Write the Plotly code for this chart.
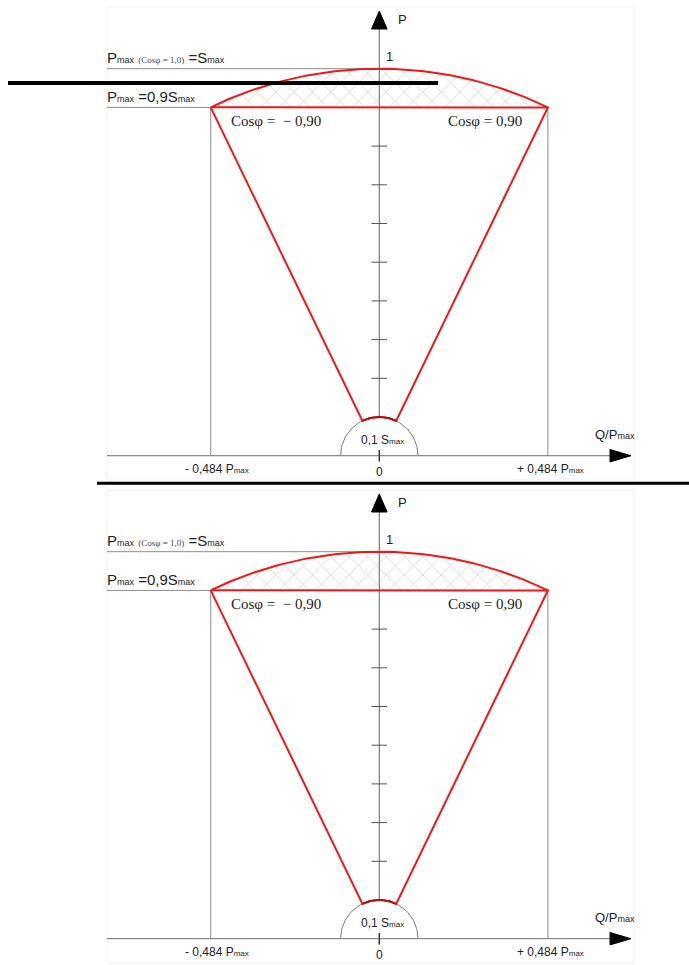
import numpy as np
import plotly.graph_objects as go

# values (units of S_max)
p_unity = 1.0          # P_max at cos phi = 1.0
p_limit = 0.9          # P_max = 0.9 S_max
q_ratio = 0.484        # Q / P_max at the corners
s_small = 0.1          # small half circle, 0.1 S_max
p_ticks = [0.2, 0.3, 0.4, 0.5, 0.6, 0.7, 0.8]
cos_labels = ["Cosφ\u00a0=\u00a0\u00a0− 0,90", "Cosφ\u00a0=\u00a00,90"]
q_labels = ["- 0,484 P<span style='font-size:8px'>max</span>",
            "+ 0,484 P<span style='font-size:8px'>max</span>"]

# page geometry (pixels) of one copy of the drawing
PX = 387.0           # pixels per unit
X0, Y0 = 379.3, 455.7
PANEL_H = [483, 482]  # the picture holds the same drawing twice
W, H = 689, 965

def dx(px):
    return (px - X0) / PX

def dy(py):
    return (Y0 - py) / PX

q_edge = q_ratio * p_limit
th_edge = np.arccos(q_edge)

SMALL = "font-size:8px"
MID = "font-size:9px"
SERIF = "Liberation Serif"
SANS = "Liberation Sans, Arial"

fig = go.Figure()


def line(xa, ya, x, y, color, width, fill=None, fillcolor=None, pattern=None):
    fig.add_trace(go.Scatter(x=x, y=y, mode="lines", xaxis=xa, yaxis=ya,
                             line=dict(color=color, width=width),
                             fill=fill, fillcolor=fillcolor, fillpattern=pattern,
                             hoverinfo="skip", showlegend=False))


def add_panel(n):
    xa = "x" if n == 1 else "x2"
    ya = "y" if n == 1 else "y2"
    left, right = dx(107), dx(634)

    # faint frame
    line(xa, ya, [left, right, right, left, left], [dy(7), dy(7), dy(480), dy(480), dy(7)],
         "#f1f1f1", 1)

    # hatched area between the S_max circle and P = 0.9
    th = np.linspace(th_edge, np.pi - th_edge, 80)
    line(xa, ya, list(np.cos(th)) + [np.cos(th[0])], list(np.sin(th)) + [np.sin(th[0])],
         "rgba(0,0,0,0)", 0, fill="toself", fillcolor="white",
         pattern=dict(shape="x", fgcolor="#a8a8a8", bgcolor="white", size=13, solidity=0.12))

    # grey reference lines
    line(xa, ya, [left, 0], [p_unity, p_unity], "#8c8c8c", 1)
    line(xa, ya, [left, -q_edge], [p_limit, p_limit], "#8c8c8c", 1)
    line(xa, ya, [-q_edge, -q_edge, None, q_edge, q_edge],
         [0, p_limit, None, 0, p_limit], "#8c8c8c", 1)

    # small half circle
    ts = np.linspace(0, np.pi, 60)
    line(xa, ya, s_small * np.cos(ts), s_small * np.sin(ts), "#7a7a7a", 1)

    # horizontal axis
    line(xa, ya, [left, dx(610)], [0, 0], "#8c8c8c", 1.3)
    line(xa, ya, [dx(610), dx(631), dx(610), dx(610)], [dy(449.5), 0, dy(461.9), dy(449.5)],
         "black", 1, fill="toself", fillcolor="black")
    # vertical axis
    line(xa, ya, [0, 0], [s_small, dy(29)], "#7a7a7a", 1.2)
    line(xa, ya, [dx(371.5), 0, dx(387.1), dx(371.5)], [dy(29), dy(11), dy(29), dy(29)],
         "black", 1, fill="toself", fillcolor="black")
    tx, ty = [], []
    for t in p_ticks:
        tx += [dx(371.5), dx(387), None]
        ty += [t, t, None]
    line(xa, ya, tx, ty, "#555555", 1)
    line(xa, ya, [0, 0], [dy(450), dy(461.5)], "#333333", 1.5)

    # red capability outline
    tb = np.linspace(np.pi - th_edge, th_edge, 20)
    tt = np.linspace(th_edge, np.pi - th_edge, 80)
    rx = [-q_edge] + list(s_small * np.cos(tb)) + [q_edge] + list(np.cos(tt)) + [q_edge]
    ry = [p_limit] + list(s_small * np.sin(tb)) + [p_limit] + list(np.sin(tt)) + [p_limit]
    line(xa, ya, rx, ry, "#f01818", 2)
    line(xa, ya, s_small * np.cos(tb), s_small * np.sin(tb), "#b01010", 2)

    def txt(x, y, s, size=12, anchor="center", family=SANS, color="#222222"):
        fig.add_annotation(x=x, y=y, xref=xa, yref=ya, text=s, showarrow=False,
                           xanchor=anchor, yanchor="middle",
                           font=dict(family=family, size=size, color=color))

    txt(dx(396), dy(19), "P", 13, "left")
    txt(dx(384), dy(56), "1", 13, "left")
    txt(dx(105), dy(57),
        "P<span style='%s'>max</span> <span style='font-family:%s;font-size:9px;fill:#444'>(Cosφ\u00a0=\u00a01,0)</span> =S<span style='%s'>max</span>"
        % (MID, SERIF, MID), 15, "left")
    txt(dx(105), dy(96), "P<span style='%s'>max</span> =0,9S<span style='%s'>max</span>"
        % (MID, MID), 15, "left")
    txt(dx(275.5), dy(121), cos_labels[0], 15, family=SERIF)
    txt(dx(484.7), dy(121), cos_labels[1], 15, family=SERIF)
    txt(dx(382), dy(440), "0,1 S<span style='%s'>max</span>" % SMALL, 12)
    txt(0, dy(472), "0", 12)
    txt(dx(217), dy(469), q_labels[0], 12)
    txt(dx(550), dy(469), q_labels[1], 12)
    txt(dx(615), dy(434), "Q/P<span style='%s'>max</span>" % MID, 13)


add_panel(1)
add_panel(2)

# page domains so that one unit is PX pixels in both directions
top_dom = [1 - PANEL_H[0] / H, 1]
bot_dom = [0, 1 - PANEL_H[0] / H]
xr = [dx(0), dx(W)]
ax = dict(visible=False, showgrid=False, zeroline=False, fixedrange=True)
fig.update_layout(
    width=W, height=H, margin=dict(l=0, r=0, t=0, b=0),
    paper_bgcolor="white", plot_bgcolor="white", showlegend=False,
    xaxis=dict(ax, domain=[0, 1], range=xr),
    yaxis=dict(ax, domain=top_dom, range=[dy(PANEL_H[0]), dy(0)]),
    xaxis2=dict(ax, domain=[0, 1], range=xr, anchor="y2"),
    yaxis2=dict(ax, domain=bot_dom, range=[dy(PANEL_H[1]), dy(0)], anchor="x2"),
)

# black strokes drawn across the picture
fig.add_shape(type="line", xref="paper", yref="paper", x0=8 / W, x1=438 / W,
              y0=1 - 83 / H, y1=1 - 83 / H, line=dict(color="black", width=4))
fig.add_shape(type="line", xref="paper", yref="paper", x0=97 / W, x1=1,
              y0=1 - 483.3 / H, y1=1 - 483.3 / H, line=dict(color="black", width=3))

fig.write_html("out.html", config={"displayModeBar": False},
               post_script="document.body.style.margin='0';")
